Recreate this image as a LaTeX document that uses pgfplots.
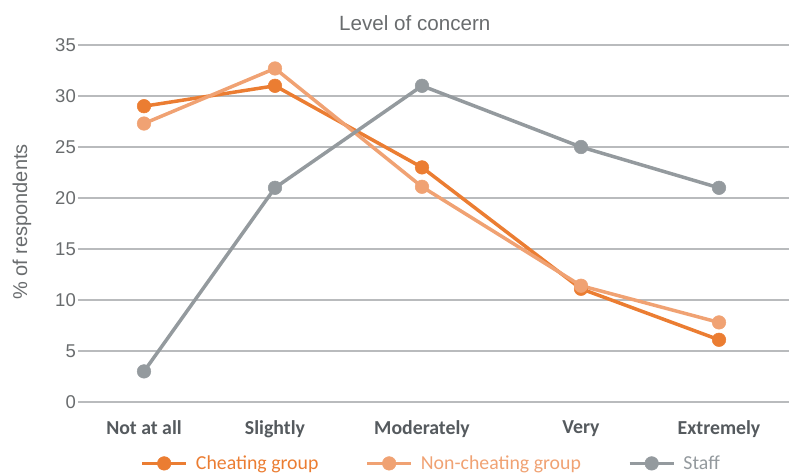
\documentclass[border=0pt]{standalone}
\usepackage{pgfplots}
\pgfplotsset{compat=1.18}
\usepackage{fontspec}
\setmainfont{Liberation Sans}
\newfontfamily\carlito{Carlito}
\definecolor{cheat}{RGB}{235,125,50}
\definecolor{noncheat}{RGB}{240,162,115}
\definecolor{staff}{RGB}{148,154,158}
\definecolor{gridc}{RGB}{185,187,189}
\definecolor{ticktext}{RGB}{105,108,110}
\definecolor{cattext}{RGB}{85,90,94}
\begin{document}
\begin{tikzpicture}[x=1pt,y=1pt]
\useasboundingbox (0,0) rectangle (789,474);
\begin{axis}[
  at={(78pt,72pt)}, anchor=south west,
  scale only axis, width=712pt, height=357pt,
  xmin=78, xmax=790, ymin=0, ymax=35,
  axis line style={draw=none},
  major tick length=0pt,
  ytick={0,5,...,35},
  ymajorgrids, grid style={gridc, line width=2pt},
  xtick={144,275,422,581,719},
  xticklabels={Not at all,Slightly,Moderately,Very,Extremely},
  xticklabel style={font=\carlito\bfseries\fontsize{19.8}{22}\selectfont, text=cattext, yshift=-15pt},
  yticklabel style={font=\fontsize{18.5}{20}\selectfont, text=ticktext, inner sep=1pt, xshift=-1pt},
  /pgf/number format/assume math mode=true,
  title={Level of concern},
  title style={at={(axis description cs:0.473,1)}, anchor=center, yshift=16pt, font=\fontsize{20.6}{22}\selectfont, text=ticktext},
  ylabel={\% of respondents},
  ylabel style={at={(axis description cs:-0.0787,0.504)}, anchor=center, rotate=0, font=\fontsize{20}{22}\selectfont, text=ticktext},
  legend columns=3,
  legend style={at={(axis description cs:0.496,-0.172)}, anchor=center, draw=none, fill=none,
    font=\carlito\fontsize{19.8}{22}\selectfont,
    /tikz/every odd column/.style={column sep=6pt},
    /tikz/column 2/.style={column sep=45pt},
    /tikz/column 4/.style={column sep=45pt}},
  legend image code/.code={\draw[mark repeat=2,mark phase=2,#1] plot coordinates {(0pt,0pt) (22pt,0pt) (44pt,0pt)};},
  every axis plot/.append style={line width=3.5pt, mark=*, mark size=6.8pt},
  clip=false,
]
\addplot[color=cheat, mark options={fill=cheat, draw=cheat, line width=0.5pt}] coordinates {(144,29) (275,31) (422,23) (581,11.1) (719,6.1)};
\addlegendentry{\textcolor{cheat}{Cheating group}}
\addplot[color=noncheat, mark options={fill=noncheat, draw=noncheat, line width=0.5pt}] coordinates {(144,27.3) (275,32.7) (422,21.1) (581,11.4) (719,7.8)};
\addlegendentry{\textcolor{noncheat}{Non-cheating group}}
\addplot[color=staff, mark options={fill=staff, draw=staff, line width=0.5pt}] coordinates {(144,3) (275,21) (422,31) (581,25) (719,21)};
\addlegendentry{\textcolor{staff}{Staff}}
\end{axis}
\end{tikzpicture}
\end{document}
